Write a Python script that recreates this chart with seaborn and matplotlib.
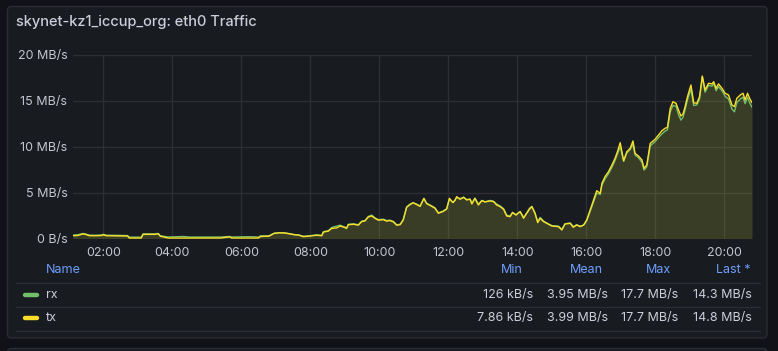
import numpy as np
import pandas as pd
import matplotlib
matplotlib.use("Agg")
import matplotlib.pyplot as plt
import matplotlib.dates as mdates
import seaborn as sns
from matplotlib.patches import FancyBboxPatch
from matplotlib.ticker import FuncFormatter

# ---------------- data (hours of day, MB/s) ----------------
hours = [1.12, 1.25, 1.41, 1.50, 1.60, 1.80, 1.95, 2.00, 2.08, 2.40, 2.70, 2.75, 3.10, 3.15,
         3.50, 3.59, 3.65, 3.88, 4.30, 4.50, 5.00, 5.40, 5.66, 5.72, 6.20, 6.50, 6.55, 6.80,
         6.95, 7.10, 7.25, 7.41, 7.55, 7.65, 7.80, 7.99, 8.18, 8.33, 8.38, 8.52, 8.62, 8.76,
         8.86, 8.96, 9.05, 9.10, 9.25, 9.39, 9.49, 9.58, 9.68, 9.78, 9.87, 9.97, 10.12, 10.21,
         10.31, 10.41, 10.50, 10.60, 10.69, 10.79, 10.89, 10.98, 11.08, 11.18, 11.29, 11.37,
         11.52, 11.61, 11.71, 11.85, 11.95, 12.03, 12.13, 12.19, 12.24, 12.34, 12.44, 12.53,
         12.63, 12.68, 12.77, 12.87, 12.97, 13.06, 13.21, 13.31, 13.40, 13.50, 13.60, 13.69,
         13.79, 13.86, 13.96, 14.08, 14.18, 14.27, 14.35, 14.42, 14.51, 14.59, 14.66, 14.76,
         14.85, 15.00, 15.19, 15.29, 15.38, 15.53, 15.62, 15.72, 15.82, 15.92, 16.01, 16.11,
         16.21, 16.30, 16.40, 16.45, 16.54, 16.64, 16.74, 16.83, 16.90, 16.98, 17.08, 17.17,
         17.27, 17.35, 17.41, 17.51, 17.61, 17.67, 17.75, 17.85, 17.99, 18.09, 18.19, 18.28,
         18.35, 18.43, 18.51, 18.60, 18.67, 18.74, 18.80, 18.86, 18.93, 19.03, 19.11, 19.20,
         19.28, 19.36, 19.44, 19.54, 19.64, 19.69, 19.76, 19.83, 19.93, 20.02, 20.12, 20.22,
         20.29, 20.36, 20.46, 20.54, 20.60, 20.67, 20.73, 20.80]

tx = [0.30, 0.32, 0.50, 0.42, 0.30, 0.30, 0.32, 0.42, 0.30, 0.28, 0.27, 0.05, 0.05, 0.45,
      0.45, 0.52, 0.25, 0.05, 0.05, 0.05, 0.05, 0.05, 0.18, 0.05, 0.05, 0.05, 0.22, 0.25,
      0.55, 0.62, 0.60, 0.50, 0.40, 0.38, 0.20, 0.27, 0.35, 0.30, 0.70, 0.80, 1.10, 1.15,
      1.35, 1.25, 1.10, 1.50, 1.55, 1.45, 1.85, 1.90, 2.35, 2.45, 2.20, 2.00, 2.05, 1.90,
      1.95, 1.80, 1.45, 1.50, 2.00, 3.40, 3.70, 3.90, 3.70, 3.50, 4.38, 3.80,
      3.50, 3.30, 2.75, 2.95, 3.20, 4.38, 3.91, 4.13, 4.56, 4.27, 4.49, 4.20,
      4.27, 3.76, 4.38, 3.65, 4.13, 3.98, 4.09, 4.02, 3.65, 3.47, 3.18, 2.45,
      2.38, 2.82, 2.56, 2.92, 2.20, 2.74, 3.18, 3.47, 2.74, 1.73, 2.20, 1.83,
      1.65, 1.36, 1.29, 0.93, 1.58, 1.65, 1.22, 1.47, 1.29, 1.47, 2.02, 3.11,
      4.20, 5.21, 4.92, 6.01, 6.74, 7.28, 8.01, 8.74, 9.46, 10.44, 8.48, 9.46,
      9.83, 10.63, 9.28, 8.99, 8.56, 7.65, 8.01, 10.37, 10.81, 11.28, 11.75, 12.01,
      12.12, 14.19, 14.91, 14.73, 14.00, 13.35, 13.57, 14.37, 15.46, 16.73, 14.80, 14.73,
      15.46, 17.70, 16.19, 16.92, 16.85, 17.09, 16.37, 16.85, 16.37, 15.83, 15.64, 14.55,
      14.37, 15.28, 15.64, 15.83, 15.10, 15.83, 15.28, 14.80]

rx = [0.38, 0.40, 0.55, 0.48, 0.36, 0.36, 0.38, 0.45, 0.36, 0.34, 0.32, 0.15, 0.15, 0.50,
      0.50, 0.55, 0.30, 0.16, 0.22, 0.16, 0.16, 0.16, 0.22, 0.16, 0.20, 0.16, 0.28, 0.30,
      0.58, 0.64, 0.62, 0.52, 0.42, 0.40, 0.24, 0.30, 0.40, 0.34, 0.75, 0.85, 1.20, 1.35,
      1.45, 1.30, 1.15, 1.55, 1.60, 1.50, 1.90, 1.95, 2.40, 2.55, 2.25, 2.05, 2.10, 1.95,
      2.00, 1.85, 1.50, 1.55, 2.05, 3.45, 3.75, 3.90, 3.75, 3.55, 4.35, 3.85,
      3.55, 3.35, 2.80, 3.00, 3.25, 4.30, 3.95, 4.20, 4.45, 4.35, 4.50, 4.25,
      4.30, 3.85, 4.40, 3.75, 4.15, 4.00, 4.15, 4.05, 3.75, 3.55, 3.25, 2.55,
      2.45, 2.85, 2.60, 2.95, 2.30, 2.80, 3.30, 3.50, 2.80, 1.85, 2.30, 1.90,
      1.70, 1.40, 1.35, 1.00, 1.60, 1.70, 1.30, 1.50, 1.35, 1.45, 1.95, 2.95,
      4.00, 4.95, 4.80, 5.80, 6.50, 7.05, 7.75, 8.50, 9.20, 10.00, 8.40, 9.30,
      9.70, 10.30, 9.10, 8.80, 8.30, 7.45, 7.80, 10.10, 10.55, 11.00, 11.40, 11.70,
      11.85, 13.80, 14.50, 14.40, 13.50, 12.90, 13.20, 14.00, 15.10, 16.30, 14.50, 14.55,
      15.20, 17.65, 15.95, 16.70, 16.60, 16.90, 16.10, 16.55, 16.10, 15.50, 15.20, 14.10,
      13.80, 14.80, 15.20, 15.40, 14.70, 15.40, 14.80, 14.30]

series_names = ["rx", "tx"]
series_colors = ["#73bf69", "#fade2a"]
stat_headers = ["Min", "Mean", "Max", "Last *"]
stat_values = {
    "rx": ["126 kB/s", "3.95 MB/s", "17.7 MB/s", "14.3 MB/s"],
    "tx": ["7.86 kB/s", "3.99 MB/s", "17.7 MB/s", "14.8 MB/s"],
}
y_ticks = [0, 5, 10, 15, 20]
title = "skynet-kz1_iccup_org: eth0 Traffic"

# ---------------- build frame ----------------
base = pd.Timestamp("2024-01-01")
t = base + pd.to_timedelta(hours, unit="h")
df = pd.concat([
    pd.DataFrame({"time": t, "value": rx, "series": "rx"}),
    pd.DataFrame({"time": t, "value": tx, "series": "tx"}),
])

sns.set_theme(style="dark")
plt.rcParams['font.family'] = ['Inter', 'DejaVu Sans']

W, H = 778, 351
TEXT = "#ccccdc"
TEXT2 = "#c2c5cf"
BLUE = "#6e9fff"
GRID = "#2d2f35"

fig = plt.figure(figsize=(W / 100, H / 100), dpi=100, facecolor="#111217")
bg = fig.add_axes([0, 0, 1, 1])
bg.set_xlim(0, W)
bg.set_ylim(H, 0)
bg.axis("off")
bg.add_patch(FancyBboxPatch((7.5, 6.5), 759.5, 331.5,
                            boxstyle="round,pad=0,rounding_size=4",
                            fc="#181b1f", ec="#2a2d33", lw=1))
bg.add_patch(FancyBboxPatch((7.5, 348.5), 759.5, 20,
                            boxstyle="round,pad=0,rounding_size=4",
                            fc="#181b1f", ec="#2a2d33", lw=1))
bg.text(16, 22, title, color=TEXT, fontsize=10.5, fontweight="medium",
        va="center", ha="left")

# ---------------- chart ----------------
x0, x1, ytop, ybot = 73, 752, 55, 238.5
ax = fig.add_axes([x0 / W, 1 - ybot / H, (x1 - x0) / W, (ybot - ytop) / H])
ax.set_facecolor("none")
sns.lineplot(data=df, x="time", y="value", hue="series",
             palette=dict(zip(series_names, series_colors)),
             linewidth=1.0, ax=ax, legend=False, zorder=3)
ax.fill_between(t, tx, 0, color=series_colors[1], alpha=0.13, lw=0, zorder=1)
ax.fill_between(t, rx, 0, color=series_colors[0], alpha=0.07, lw=0, zorder=1)

ax.set_xlim(t[0], t[-1])
ax.set_ylim(0, 20)
ax.set_yticks(y_ticks)
ax.yaxis.set_major_formatter(FuncFormatter(
    lambda v, p: "0 B/s" if v == 0 else f"{int(v)} MB/s"))
ax.xaxis.set_major_locator(mdates.HourLocator(byhour=range(0, 24, 2)))
ax.xaxis.set_major_formatter(mdates.DateFormatter("%H:%M"))
ax.grid(True, color=GRID, linewidth=1)
ax.set_axisbelow(True)
for s in ax.spines.values():
    s.set_visible(False)
ax.tick_params(axis="both", length=0, labelsize=9, colors=TEXT2)
ax.tick_params(axis="y", pad=4)
ax.tick_params(axis="x", pad=6)
ax.set_xlabel("")
ax.set_ylabel("")

# ---------------- legend table ----------------
hdr_x = [523, 603, 671, 751]
val_x = [533, 608, 678, 752]
bg.text(46, 270, "Name", color=BLUE, fontsize=9, va="center", ha="left")
for hx, h in zip(hdr_x, stat_headers):
    bg.text(hx, 270, h, color=BLUE, fontsize=9, va="center", ha="right")
for ly in [282.5, 306.5, 330.5]:
    bg.plot([16, 760], [ly, ly], color="#2a2d33", lw=1)
row_y = [295, 318]
for ry, name, col in zip(row_y, series_names, series_colors):
    bg.plot([25, 37], [ry, ry], color=col, lw=3.2, solid_capstyle="round")
    bg.text(46, ry, name, color=TEXT, fontsize=9, va="center", ha="left")
    for vx, v in zip(val_x, stat_values[name]):
        bg.text(vx, ry, v, color=TEXT, fontsize=9, va="center", ha="right")

fig.savefig("out.png", dpi=100, facecolor=fig.get_facecolor())
